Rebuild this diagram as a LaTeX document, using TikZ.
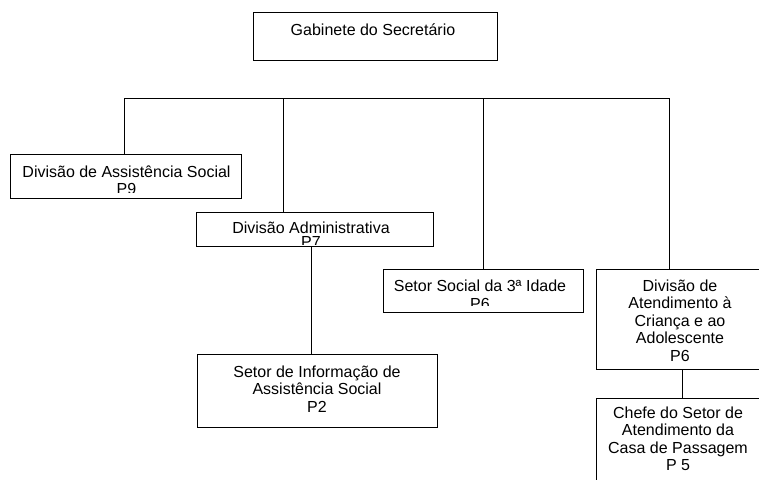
\documentclass[tikz,border=0pt]{standalone}
\usepackage{fontspec}
\setmainfont{Liberation Sans}
\begin{document}
\begin{tikzpicture}[x=1pt,y=-1pt,
  unitbox/.style={draw=black, line width=0.9pt, rectangle, inner sep=0pt, outer sep=0pt, anchor=north west},
  unittext/.style={font=\fontsize{16}{17.5}\selectfont, align=center, inner sep=0pt, anchor=north},
  link/.style={draw=black, line width=0.9pt}]
\clip (0,0) rectangle (759,479);
\fill[white] (0,0) rectangle (759,479);

% boxes of the organisation chart
\node[unitbox, minimum width=244, minimum height=48] (gab) at (253,12) {};
\node[unitbox, minimum width=231, minimum height=44] (das) at (10,154) {};
\node[unitbox, minimum width=237, minimum height=34] (dad) at (196,212) {};
\node[unitbox, minimum width=200, minimum height=43] (sso) at (383,269) {};
\node[unitbox, minimum width=200, minimum height=100] (dat) at (596,269) {};
\node[unitbox, minimum width=200, minimum height=120] (chf) at (596,398) {};
\node[unitbox, minimum width=240, minimum height=73] (sis) at (197,354) {};

% labels (the short boxes cut their last line)
\node[unittext] (gabt) at (373,22.75) {\strut Gabinete do Secretário};
\begin{scope}
  \clip (10,154) rectangle (241,192.5);
  \node[unittext] (dast) at (126.5,164.75) {\strut Divisão de Assistência Social\\P9};
\end{scope}
\begin{scope}
  \clip (196,212) rectangle (433,244);
  \node[unittext] (dadt) at (311,220.75) {\strut Divisão Administrativa\\[-3pt]P7};
\end{scope}
\begin{scope}
  \clip (383,269) rectangle (583,305.5);
  \node[unittext, font=\fontsize{16}{18}\selectfont] (ssot) at (480,278.4) {\strut Setor Social da 3ª Idade\\P6};
\end{scope}
\node[unittext] (datt) at (680,278.75) {\strut Divisão de\\Atendimento à\\Criança e ao\\Adolescente\\P6};
\node[unittext] (chft) at (678,405.75) {\strut Chefe do Setor de\\Atendimento da\\Casa de Passagem\\P 5};
\node[unittext] (sist) at (317,364.75) {\strut Setor de Informação de\\Assistência Social\\P2};

% connectors
\coordinate (j1) at (124,98);
\coordinate (j2) at (283,98);
\coordinate (j3) at (483,98);
\coordinate (j4) at (669,98);
\coordinate (xs) at (311,0);
\coordinate (xc) at (682,0);
\draw[link] (j1) -- (j4);
\draw[link] (j1) -- (j1 |- das.north);
\draw[link] (j2) -- (j2 |- dad.north);
\draw[link] (j3) -- (j3 |- sso.north);
\draw[link] (j4) -- (j4 |- dat.north);
\draw[link] (xs |- dad.south) -- (xs |- sis.north);
\draw[link] (xc |- dat.south) -- (xc |- chf.north);
\end{tikzpicture}
\end{document}
